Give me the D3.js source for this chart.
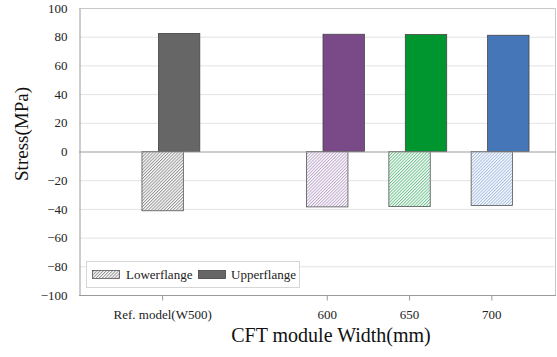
<!DOCTYPE html>
<html>
<head>
<meta charset="utf-8">
<script src="https://cdn.jsdelivr.net/npm/d3@7"></script>
<style>
  body { margin: 0; background: #fff; }
  svg { display: block; }
</style>
</head>
<body>
<div id="chart-container"></div>
<script>
// data
let categories = ["Ref. model(W500)", "", "600", "650", "700"];
let lowerflange = [-41.3, null, -38.6, -38.3, -37.6];
let upperflange = [82.3, null, 81.7, 81.5, 81.0];
let upperColors = ["#666666", null, "#7a4a88", "#00962f", "#4577b8"];
let hatchColors = ["#8a8a8a", null, "#b8a0c6", "#63bd84", "#9ab6df"];
let yTicks = [-100, -80, -60, -40, -20, 0, 20, 40, 60, 80, 100];

let serif = "'Liberation Serif', 'Times New Roman', serif";
let w = 557, h = 357;
let plot = {left: 79, right: 556, top: 8, bottom: 295};

let svg = d3.select("#chart-container")
  .append("svg")
  .attr("width", w)
  .attr("height", h)
  .attr("viewBox", "0 0 " + w + " " + h)
  .style("font-family", serif);

let scaleY = d3.scaleLinear()
  .domain([-100, 100])
  .range([plot.bottom, plot.top]);

let scaleX = d3.scaleBand()
  .domain(categories)
  .range([121.5, 533]);

let bw = scaleX.bandwidth();
let barW = bw * 0.503;
let shift = bw * 0.2;

// hatch patterns
let defs = svg.append("defs");
hatchColors.forEach(function (c, i) {
  if (!c) return;
  let p = defs.append("pattern")
    .attr("id", "hatch" + i)
    .attr("patternUnits", "userSpaceOnUse")
    .attr("width", 2.2)
    .attr("height", 4)
    .attr("patternTransform", "rotate(45)");
  p.append("rect").attr("width", 2.2).attr("height", 4).attr("fill", "#fff");
  p.append("line")
    .attr("x1", 0.5).attr("y1", 0).attr("x2", 0.5).attr("y2", 4)
    .attr("stroke", c)
    .attr("stroke-width", 0.9);
});

// gridlines
svg.append("g").selectAll("line").data(yTicks.filter(d => d !== 0 && d !== -100)).join("line")
  .attr("x1", plot.left).attr("x2", plot.right)
  .attr("y1", d => scaleY(d) + 0.5).attr("y2", d => scaleY(d) + 0.5)
  .attr("stroke", "#e3e3e3")
  .attr("stroke-width", 1);

// frame (top + right)
svg.append("path")
  .attr("d", "M" + plot.left + "," + (plot.top + 0.5) + "H" + (plot.right - 0.5) + "V" + plot.bottom)
  .attr("fill", "none")
  .attr("stroke", "#c8c8c8")
  .attr("stroke-width", 1);

// lower bars
svg.append("g").selectAll("rect").data(lowerflange).join("rect")
  .filter(d => d !== null)
  .attr("x", d => scaleX(categories[lowerflange.indexOf(d)]) + bw / 2 - barW / 2)
  .attr("y", scaleY(0))
  .attr("width", barW)
  .attr("height", d => scaleY(d) - scaleY(0))
  .attr("fill", d => "url(#hatch" + lowerflange.indexOf(d) + ")")
  .attr("stroke", "#555")
  .attr("stroke-width", 0.8);

// upper bars
svg.append("g").selectAll("rect").data(upperflange).join("rect")
  .filter(d => d !== null)
  .attr("x", d => scaleX(categories[upperflange.indexOf(d)]) + bw / 2 - barW / 2 + shift)
  .attr("y", d => scaleY(d))
  .attr("width", barW)
  .attr("height", d => scaleY(0) - scaleY(d))
  .attr("fill", d => upperColors[upperflange.indexOf(d)])
  .attr("stroke", "#444")
  .attr("stroke-width", 0.8);

// zero line
svg.append("line")
  .attr("x1", plot.left).attr("x2", plot.right)
  .attr("y1", scaleY(0) + 0.5).attr("y2", scaleY(0) + 0.5)
  .attr("stroke", "#9a9a9a");

// y axis
let yAxis = svg.append("g")
  .attr("transform", "translate(" + (plot.left + 0.5) + ",0)")
  .call(d3.axisLeft(scaleY).tickValues(yTicks).tickSize(0).tickPadding(12));
yAxis.select(".domain").attr("stroke", "#9a9a9a");
yAxis.selectAll("text")
  .style("font-family", serif)
  .style("font-size", "13px")
  .attr("fill", "#222");

// x axis
let xAxis = svg.append("g")
  .attr("transform", "translate(0," + (plot.bottom + 0.5) + ")")
  .call(d3.axisBottom(scaleX).tickSize(5).tickPadding(9));
xAxis.select(".domain").attr("d", "M" + plot.left + ",0H" + plot.right).attr("stroke", "#9a9a9a");
xAxis.selectAll(".tick line").attr("stroke", "#9a9a9a");
xAxis.selectAll(".tick").filter(d => d === "").remove();
xAxis.selectAll("text")
  .style("font-family", serif)
  .style("font-size", "13px")
  .attr("fill", "#222");

// axis titles
svg.append("text")
  .attr("transform", "translate(28,134)rotate(-90)")
  .attr("text-anchor", "middle")
  .style("font-size", "19px")
  .attr("fill", "#111")
  .text("Stress(MPa)");

svg.append("text")
  .attr("x", 331)
  .attr("y", 342)
  .attr("text-anchor", "middle")
  .style("font-size", "20px")
  .attr("fill", "#111")
  .text("CFT module Width(mm)");

// legend
let lg = svg.append("g");
lg.append("rect")
  .attr("x", 86.5).attr("y", 261.5)
  .attr("width", 213).attr("height", 26)
  .attr("fill", "#fff")
  .attr("stroke", "#d6d6d6");
lg.append("rect")
  .attr("x", 92.5).attr("y", 270.5)
  .attr("width", 27).attr("height", 8)
  .attr("fill", "url(#hatch0)")
  .attr("stroke", "#555")
  .attr("stroke-width", 0.8);
lg.append("text")
  .attr("x", 126).attr("y", 279)
  .style("font-size", "13px")
  .attr("fill", "#222")
  .text("Lowerflange");
lg.append("rect")
  .attr("x", 198.5).attr("y", 270.5)
  .attr("width", 27).attr("height", 8)
  .attr("fill", upperColors[0])
  .attr("stroke", "#444")
  .attr("stroke-width", 0.8);
lg.append("text")
  .attr("x", 231).attr("y", 279)
  .style("font-size", "13px")
  .attr("fill", "#222")
  .text("Upperflange");
</script>
</body>
</html>
